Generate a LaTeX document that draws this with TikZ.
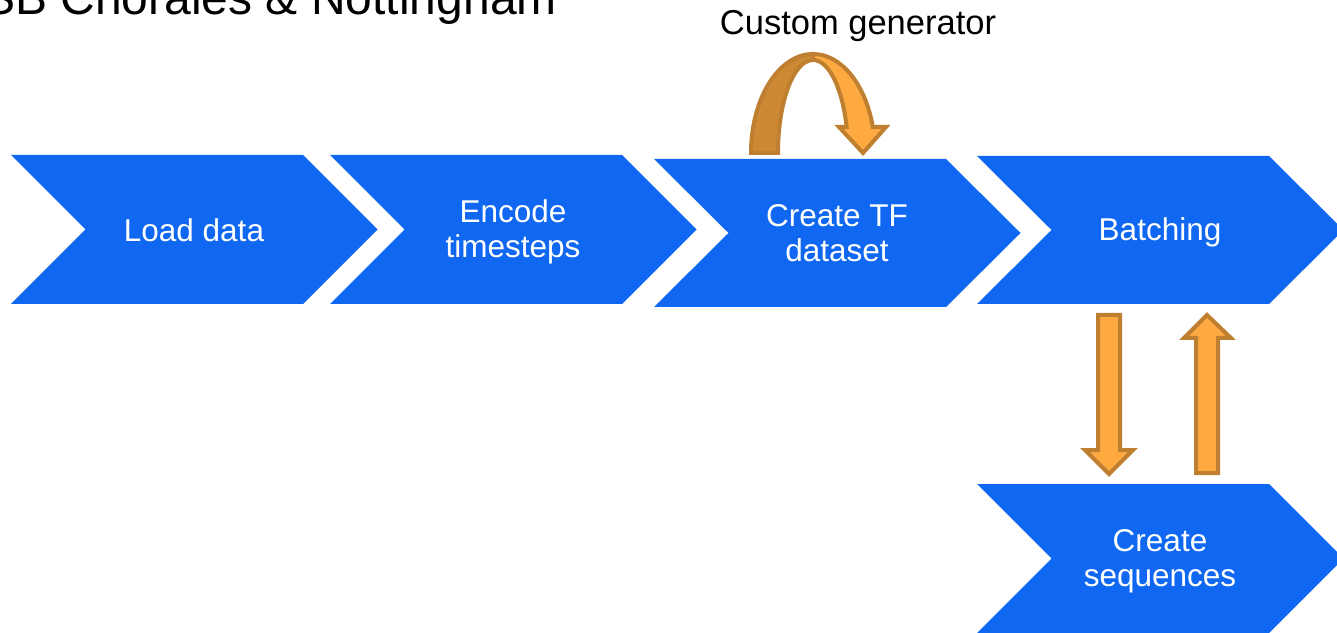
\documentclass[tikz,border=0pt]{standalone}
\usepackage{fontspec}
\setmainfont{Liberation Sans}
\definecolor{chevblue}{RGB}{16,104,242}
\definecolor{arrfill}{RGB}{255,170,64}
\definecolor{arrdark}{RGB}{205,137,52}
\definecolor{arredge}{RGB}{190,127,48}
% #1 = left x, #2 = top y, #3 = bottom y
\newcommand\drawchev[3]{%
  \fill[chevron] (#1,#2) -- ({#1+292},#2) -- ({#1+366.5},{(#2+#3)/2}) -- ({#1+292},#3)
    -- (#1,#3) -- ({#1+74.5},{(#2+#3)/2}) -- cycle;}
\begin{document}
\begin{tikzpicture}[x=1pt,y=1pt,
  chevron/.style={fill=chevblue},
  blockarrow/.style={fill=arrfill, draw=arredge, line width=4pt, line join=miter},
  chevtext/.style={text=white, font=\fontsize{31.5}{35}\selectfont, align=center, inner sep=0pt},
]
\useasboundingbox (0,0) rectangle (1337,632);
\clip (0,0) rectangle (1337,632);

% chevrons
\drawchev{11}{477}{328}
\drawchev{330}{477}{328}
\drawchev{654}{473}{325}
\drawchev{977}{476}{328}
\drawchev{977}{148}{-1}

% labels
\node[chevtext] (load) at (194,402) {Load data};
\node[chevtext] (encode) at (513,400) {Encode\\timesteps};
\node[chevtext] (tfdata) at (837,399) {Create TF\\dataset};
\node[chevtext] (batch) at (1160,400) {Batching};
\node[chevtext] (seq) at (1160,71) {Create\\sequences};

\node[anchor=base east, inner sep=0pt, font=\fontsize{48}{56}\selectfont] (title) at (557,617) {JSB Chorales \& Nottingham};
\node[anchor=base, inner sep=0pt, font=\fontsize{34.5}{40}\selectfont] (gen) at (858,597) {Custom generator};

% curved arrow (left darker half, right lighter half with head)
\filldraw[blockarrow, fill=arrdark] (751,479) arc[start angle=180,end angle=90,x radius=62,y radius=99]
  -- (813,572) arc[start angle=90,end angle=180,x radius=35,y radius=93] -- cycle;
\filldraw[blockarrow] (813,578) arc[start angle=90,end angle=15.23,x radius=62,y radius=99]
  -- (886,505) -- (863,479) -- (839,505) -- (846.6,505)
  arc[start angle=16.23,end angle=90,x radius=35,y radius=93] -- cycle;

% down and up block arrows
\filldraw[blockarrow] (1098,317) -- (1120,317) -- (1120,182) -- (1133,182) -- (1109,158)
  -- (1085,182) -- (1098,182) -- cycle;
\filldraw[blockarrow] (1196,159) -- (1218,159) -- (1218,294) -- (1231,294) -- (1207,317)
  -- (1184,294) -- (1196,294) -- cycle;
\end{tikzpicture}
\end{document}
